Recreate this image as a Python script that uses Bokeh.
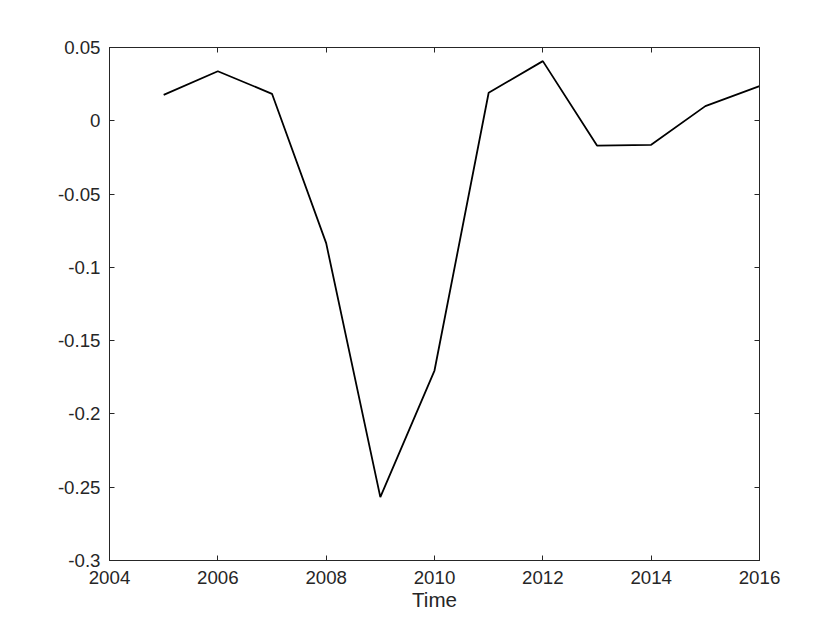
from bokeh.plotting import figure
from bokeh.models import Range1d, LinearAxis, FixedTicker
from bokeh.embed import file_html
from bokeh.resources import INLINE

years = [2005, 2006, 2007, 2008, 2009, 2010, 2011, 2012, 2013, 2014, 2015, 2016]
values = [0.0177, 0.0338, 0.0184, -0.0835, -0.2568, -0.1704, 0.0191, 0.0407,
          -0.0169, -0.0164, 0.0100, 0.0236]

x_ticks = [2004, 2006, 2008, 2010, 2012, 2014, 2016]
y_ticks = [-0.3, -0.25, -0.2, -0.15, -0.1, -0.05, 0.0, 0.05]
y_tick_labels = ["-0.3", "-0.25", "-0.2", "-0.15", "-0.1", "-0.05", "0", "0.05"]
x_label = "Time"

AX = "#262626"
FONT = "Liberation Sans"

p = figure(width=824, height=614, output_backend="svg", toolbar_location=None,
           x_range=Range1d(2004, 2016), y_range=Range1d(-0.3, 0.05),
           min_border_left=109, min_border_right=65, min_border_top=47, min_border_bottom=54)
p.background_fill_color = "white"
p.border_fill_color = "white"
p.outline_line_color = AX
p.outline_line_width = 1
p.xgrid.visible = False
p.ygrid.visible = False

p.line(years, values, line_color="black", line_width=1.8)

def style(ax, ticks):
    ax.ticker = FixedTicker(ticks=ticks)
    ax.minor_tick_line_color = None
    ax.major_tick_in = 5
    ax.major_tick_out = 0
    ax.axis_line_color = AX
    ax.major_tick_line_color = AX
    ax.major_label_text_color = AX
    ax.major_label_text_font = FONT
    ax.major_label_text_font_size = "18.7px"

style(p.xaxis[0], x_ticks)
style(p.yaxis[0], y_ticks)
p.yaxis[0].major_label_overrides = {t: s for t, s in zip(y_ticks, y_tick_labels)}
p.xaxis[0].major_label_standoff = 10
p.yaxis[0].major_label_standoff = 9
p.xaxis[0].axis_label = x_label
p.xaxis[0].axis_label_text_font = FONT
p.xaxis[0].axis_label_text_font_size = "20.6px"
p.xaxis[0].axis_label_text_font_style = "normal"
p.xaxis[0].axis_label_text_color = AX
p.xaxis[0].axis_label_standoff = 1

# box ticks on top and right (no labels, like MATLAB's box on)
top = LinearAxis()
style(top, x_ticks)
top.major_label_overrides = {t: "" for t in x_ticks}
top.major_label_standoff = 0
p.add_layout(top, "above")
right = LinearAxis()
style(right, y_ticks)
right.major_label_overrides = {t: "" for t in y_ticks}
right.major_label_standoff = 0
p.add_layout(right, "right")

open("out.html", "w").write(file_html(p, INLINE))
